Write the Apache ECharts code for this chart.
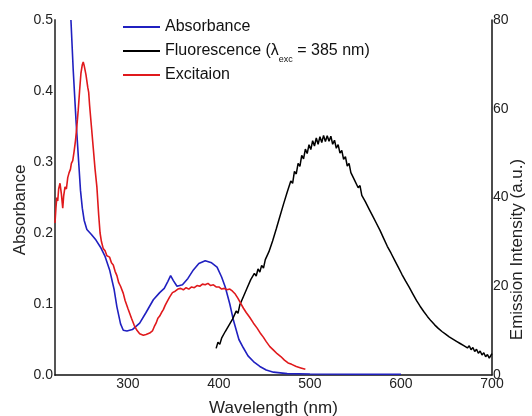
<!DOCTYPE html>
<html>
<head>
<meta charset="utf-8">
<script src="https://cdn.jsdelivr.net/npm/echarts@6/dist/echarts.min.js"></script>
<style>
  html, body { margin: 0; padding: 0; background: #fff; }
  #main { width: 532px; height: 416px; }
</style>
</head>
<body>
<div id="main"></div>
<script>
// absorbance (left axis)
var absWl = [237.5, 240, 243, 246, 248, 250, 252, 255, 260, 265, 270, 275, 280, 285, 288, 292, 295, 299, 305, 313, 320, 328, 335, 340, 344, 347, 350, 354, 360, 366, 372, 378, 385, 392, 398, 403, 407, 412, 416, 422, 427, 432, 438, 445, 452, 460, 475, 500, 550, 600];
var absVal = [0.50, 0.43, 0.36, 0.30, 0.26, 0.235, 0.218, 0.205, 0.198, 0.19, 0.18, 0.167, 0.148, 0.12, 0.096, 0.072, 0.063, 0.062, 0.064, 0.073, 0.088, 0.106, 0.116, 0.122, 0.132, 0.140, 0.133, 0.125, 0.127, 0.136, 0.148, 0.157, 0.161, 0.158, 0.152, 0.138, 0.124, 0.100, 0.077, 0.050, 0.038, 0.027, 0.019, 0.012, 0.007, 0.004, 0.002, 0.0015, 0.001, 0.001];

// excitation (left axis)
var excWl = [220, 221, 222, 223, 224, 225.5, 227, 228.5, 229.5, 231, 232.5, 234, 235.5, 237, 238, 239.5, 241, 242.5, 244, 245.5, 247, 248.5, 250, 251, 252, 253, 254, 255, 256, 257, 258, 260, 262, 264, 266, 268, 269.5, 271, 273, 275, 277, 280, 282, 284, 286, 288, 290, 292, 295, 297, 300, 302, 304, 307, 310, 313, 315, 317, 320, 322, 324, 327, 329, 331, 333, 335, 337, 339, 341, 343, 346, 349, 352, 355, 358, 361, 364, 367, 370, 373, 376, 379, 382, 385, 388, 391, 394, 397, 400, 403, 406, 409, 412, 415, 418, 421, 424, 427, 430, 434, 438, 442, 446, 449, 452, 456, 460, 464, 468, 472, 476, 480, 485, 490, 495];
var excVal = [0.214, 0.235, 0.250, 0.245, 0.262, 0.270, 0.255, 0.235, 0.252, 0.265, 0.262, 0.278, 0.285, 0.29, 0.298, 0.302, 0.315, 0.33, 0.35, 0.373, 0.40, 0.425, 0.437, 0.441, 0.436, 0.438, 0.423, 0.425, 0.405, 0.398, 0.38, 0.35, 0.32, 0.29, 0.265, 0.225, 0.200, 0.188, 0.178, 0.175, 0.168, 0.166, 0.158, 0.155, 0.146, 0.14, 0.13, 0.125, 0.115, 0.105, 0.094, 0.087, 0.08, 0.07, 0.063, 0.058, 0.06, 0.056, 0.057, 0.055, 0.059, 0.062, 0.068, 0.073, 0.08, 0.083, 0.088, 0.092, 0.098, 0.103, 0.11, 0.116, 0.118, 0.121, 0.122, 0.12, 0.123, 0.121, 0.124, 0.123, 0.126, 0.125, 0.128, 0.127, 0.129, 0.126, 0.127, 0.124, 0.124, 0.121, 0.122, 0.120, 0.121, 0.118, 0.114, 0.108, 0.101, 0.094, 0.088, 0.081, 0.073, 0.066, 0.058, 0.053, 0.047, 0.040, 0.035, 0.030, 0.026, 0.021, 0.017, 0.015, 0.012, 0.010, 0.008];

// fluorescence (right axis), every 2 nm
var fluWl = [397, 399, 401, 403, 405, 407, 409, 411, 413, 415, 417, 419, 421, 423, 425, 427, 429, 431, 433, 435, 437, 439, 441, 443, 445, 447, 449, 451, 453, 455, 457, 459, 461, 463, 465, 467, 469, 471, 473, 475, 477, 479, 481, 483, 485, 487, 489, 491, 493, 495, 497, 499, 501, 503, 505, 507, 509, 511, 513, 515, 517, 519, 521, 523, 525, 527, 529, 531, 533, 535, 537, 539, 541, 543, 545, 547, 549, 551, 553, 555, 557, 559, 561, 563, 565, 567, 569, 571, 573, 575, 577, 579, 581, 583, 585, 587, 589, 591, 593, 595, 597, 599, 601, 603, 605, 607, 609, 611, 613, 615, 617, 619, 621, 623, 625, 627, 629, 631, 633, 635, 637, 639, 641, 643, 645, 647, 649, 651, 653, 655, 657, 659, 661, 663, 665, 667, 669, 671, 673, 675, 677, 679, 681, 683, 685, 687, 689, 691, 693, 695, 697, 699, 700];
var fluVal = [6.0, 7.4, 6.9, 8.3, 8.1, 9.8, 9.5, 11.2, 10.8, 12.6, 12.3, 14.4, 13.9, 15.8, 15.5, 17.7, 17.3, 19.6, 19.2, 21.5, 21.1, 22.9, 22.3, 23.9, 23.2, 24.7, 24.1, 26.0, 25.6, 27.8, 27.6, 30.2, 30.1, 32.9, 32.8, 35.7, 35.6, 38.5, 38.4, 41.2, 40.9, 43.7, 43.2, 45.9, 45.3, 47.7, 47.0, 49.5, 48.7, 50.9, 49.9, 51.9, 50.8, 52.8, 51.6, 53.4, 52.0, 53.7, 52.4, 54.0, 52.6, 53.9, 52.7, 53.8, 52.0, 52.9, 51.1, 51.9, 50.0, 50.6, 48.6, 49.2, 47.1, 47.7, 45.6, 46.0, 43.9, 44.3, 42.2, 42.7, 40.5, 40.9, 39.0, 39.4, 37.4, 37.8, 35.8, 36.2, 34.2, 34.6, 32.6, 32.9, 30.8, 31.1, 29.0, 29.4, 27.5, 27.7, 25.9, 26.1, 24.3, 24.5, 22.7, 22.9, 21.2, 21.5, 19.8, 20.1, 18.3, 18.5, 16.8, 17.0, 15.5, 15.7, 14.3, 14.5, 13.2, 13.5, 12.2, 12.5, 11.3, 11.7, 10.5, 10.9, 9.8, 10.2, 9.2, 9.6, 8.6, 9.0, 8.1, 8.5, 7.6, 8.0, 7.1, 7.5, 6.6, 7.0, 6.1, 6.6, 5.7, 6.2, 5.3, 5.8, 4.9, 5.4, 4.5, 5.0, 4.1, 4.6, 3.8, 4.5, 4.8];

var xTicks = [300, 400, 500, 600, 700];

function zip(a, b) {
  var out = [];
  for (var i = 0; i < a.length; i++) out.push([a[i], b[i]]);
  return out;
}

var chart = echarts.init(document.getElementById('main'));
var font = 'Liberation Sans, Arial, sans-serif';

function legendFor(name, top) {
  return {
    show: true,
    orient: 'vertical',
    left: 118,
    top: top,
    icon: 'rect',
    itemWidth: 37,
    itemHeight: 2,
    selectedMode: false,
    data: [name],
    formatter: function (n) {
      if (n === 'Fluorescence') {
        return '{t|Fluorescence (λ}{s|exc}{t| = 385 nm)}';
      }
      return '{t|' + n + '}';
    },
    textStyle: {
      color: '#111',
      fontFamily: font,
      rich: {
        t: { fontSize: 16, color: '#111', fontFamily: font },
        s: { fontSize: 9, padding: [18, 0, 0, 0], color: '#111', fontFamily: font }
      }
    }
  };
}

var option = {
  animation: false,
  backgroundColor: '#fff',
  textStyle: { fontFamily: font },
  grid: { left: 55, right: 40, top: 20, bottom: 41, outerBoundsMode: 'none' },
  legend: [
    legendFor('Absorbance', 14),
    legendFor('Fluorescence', 38),
    legendFor('Excitaion', 62)
  ],
  xAxis: {
    type: 'value',
    min: 220,
    max: 700,
    interval: 20,
    name: 'Wavelength (nm)',
    nameLocation: 'middle',
    nameMoveOverlap: false,
    nameGap: 25,
    nameTextStyle: { fontSize: 17, color: '#222' },
    axisLine: { lineStyle: { color: '#111', width: 1.5 } },
    axisTick: { show: false },
    splitLine: { show: false },
    axisLabel: {
      margin: 2,
      fontSize: 14,
      color: '#222',
      formatter: function (v) {
        return xTicks.indexOf(v) >= 0 ? String(v) : '';
      }
    }
  },
  yAxis: [
    {
      type: 'value',
      position: 'left',
      min: 0,
      max: 0.5,
      interval: 0.1,
      name: 'Absorbance',
      nameLocation: 'middle',
      nameMoveOverlap: false,
      nameRotate: 90,
      nameGap: 26,
      nameTextStyle: { fontSize: 17, color: '#222', padding: [0, 25, 0, 0] },
      axisLine: { show: true, lineStyle: { color: '#555', width: 2 } },
      axisTick: { show: false },
      splitLine: { show: false },
      axisLabel: {
        margin: 2,
        fontSize: 14,
        color: '#222',
        formatter: function (v) { return v.toFixed(1); }
      }
    },
    {
      type: 'value',
      position: 'right',
      min: 0,
      max: 80,
      interval: 20,
      name: 'Emission Intensity (a.u.)',
      nameLocation: 'middle',
      nameMoveOverlap: false,
      nameRotate: 90,
      nameGap: 17,
      nameTextStyle: { fontSize: 17, color: '#222', padding: [0, 104, 0, 0] },
      axisLine: { show: true, lineStyle: { color: '#111', width: 1.5 } },
      axisTick: { show: false },
      splitLine: { show: false },
      axisLabel: { margin: 1, fontSize: 14, color: '#222' }
    }
  ],
  series: [
    {
      name: 'Absorbance',
      type: 'line',
      yAxisIndex: 0,
      showSymbol: false,
      color: '#2020c0',
      lineStyle: { color: '#2020c0', width: 1.6 },
      data: zip(absWl, absVal)
    },
    {
      name: 'Fluorescence',
      type: 'line',
      yAxisIndex: 1,
      showSymbol: false,
      color: '#000',
      lineStyle: { color: '#000', width: 1.5 },
      data: zip(fluWl, fluVal)
    },
    {
      name: 'Excitaion',
      type: 'line',
      yAxisIndex: 0,
      showSymbol: false,
      color: '#e0191c',
      lineStyle: { color: '#e0191c', width: 1.6 },
      data: zip(excWl, excVal)
    }
  ]
};

chart.setOption(option);
</script>
</body>
</html>
